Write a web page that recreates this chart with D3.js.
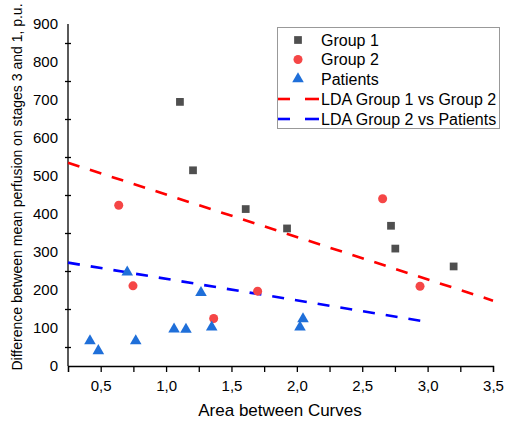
<!DOCTYPE html>
<html><head><meta charset="utf-8">
<script src="https://cdn.jsdelivr.net/npm/d3@7"></script>
<style>body{margin:0;background:#fff;} text{font-family:Arial,"Liberation Sans",sans-serif;fill:#000;}</style>
</head><body><svg id="c" width="508" height="423"></svg>
<script>
const group1X = [1.106, 1.206, 1.609, 1.925, 2.72, 2.753, 3.199];
const group1Y = [695, 515, 413, 362, 369, 309, 262];
const group2X = [0.638, 0.747, 1.364, 1.70, 2.656, 2.942];
const group2Y = [423, 211, 125, 197, 440, 210];
const patientsX = [0.418, 0.482, 0.703, 0.768, 1.061, 1.152, 1.267, 1.349, 2.024, 2.047];
const patientsY = [66, 40, 247, 66, 97, 96, 193, 102, 102, 124];
const lda12X = [0.25, 3.5];
const lda12Y = [535, 172];
const lda2PX = [0.25, 2.962];
const lda2PY = [272, 118];
const xTicks = [0.25,0.5,0.75,1.0,1.25,1.5,1.75,2.0,2.25,2.5,2.75,3.0,3.25,3.5];
const xLabels = [0.5,1.0,1.5,2.0,2.5,3.0,3.5];
const yTicks = [50,150,250,350,450,550,650,750,850];
const yLabels = [0,100,200,300,400,500,600,700,800,900];
const legendLabels = ["Group 1","Group 2","Patients","LDA Group 1 vs Group 2","LDA Group 2 vs Patients"];

const svg = d3.select("#c");
const x = d3.scaleLinear().domain([0.25,3.5]).range([68,493]);
const y = d3.scaleLinear().domain([0,900]).range([366,24]);
const fmt = v => d3.format(".1f")(v).replace(".", ",");

// X axis
const xa = svg.append("g").attr("transform","translate(0,366)")
  .call(d3.axisBottom(x).tickValues(xTicks).tickSize(6).tickFormat(""));
xa.select(".domain").attr("stroke","#000").attr("stroke-width",1.3);
xa.selectAll(".tick line").attr("stroke","#000").attr("stroke-width",1.3);
const xl = svg.append("g").attr("transform","translate(0,366)")
  .call(d3.axisBottom(x).tickValues(xLabels).tickSize(0).tickPadding(14).tickFormat(fmt));
xl.select(".domain").remove();
xl.selectAll("text").attr("font-size",15).attr("font-family","Arial, 'Liberation Sans', sans-serif").attr("fill","#000");

// Y axis
const ya = svg.append("g").attr("transform","translate(68,0)")
  .call(d3.axisLeft(y).tickValues(yTicks).tickSize(3).tickFormat(""));
ya.select(".domain").attr("stroke","#000").attr("stroke-width",1.3).attr("d","M0,24V366");
ya.selectAll(".tick line").attr("stroke","#000").attr("stroke-width",1.3).attr("x2",-3).attr("x1",3);
const yl = svg.append("g").attr("transform","translate(68,0)")
  .call(d3.axisLeft(y).tickValues(yLabels).tickSize(0).tickPadding(10).tickFormat(d3.format("d")));
yl.select(".domain").remove();
yl.selectAll("text").attr("font-size",15).attr("font-family","Arial, 'Liberation Sans', sans-serif").attr("fill","#000");

// titles
svg.append("text").attr("x",280).attr("y",416).attr("text-anchor","middle").attr("font-size",17).text("Area between Curves");
svg.append("text").attr("transform","translate(22,187) rotate(-90)").attr("text-anchor","middle").attr("font-size",14)
  .text("Difference between mean perfusion on stages 3 and 1, p.u.");

// lines
const line = d3.line().x(d=>x(d[0])).y(d=>y(d[1]));
svg.append("path").datum(d3.zip(lda12X, lda12Y)).attr("d",line).attr("fill","none")
  .attr("stroke","#ff0000").attr("stroke-width",2.6).attr("stroke-dasharray","12,11");
svg.append("path").datum(d3.zip(lda2PX, lda2PY)).attr("d",line).attr("fill","none")
  .attr("stroke","#0000ff").attr("stroke-width",2.6).attr("stroke-dasharray","12,11");

// points
const sq = d3.symbol().type(d3.symbolSquare).size(60);
const ci = d3.symbol().type(d3.symbolCircle).size(64);
const tr = d3.symbol().type(d3.symbolTriangle).size(58);
svg.append("g").selectAll("path").data(d3.zip(group1X, group1Y)).join("path")
  .attr("d",sq).attr("transform",d=>`translate(${x(d[0])},${y(d[1])})`).attr("fill","#4f4f4f");
svg.append("g").selectAll("path").data(d3.zip(group2X, group2Y)).join("path")
  .attr("d",ci).attr("transform",d=>`translate(${x(d[0])},${y(d[1])})`).attr("fill","#f54646");
svg.append("g").selectAll("path").data(d3.zip(patientsX, patientsY)).join("path")
  .attr("d",tr).attr("transform",d=>`translate(${x(d[0])},${y(d[1])})`).attr("fill","#1f6fd9");

// legend
const lg = svg.append("g");
lg.append("rect").attr("x",277.5).attr("y",27.5).attr("width",222).attr("height",101)
  .attr("fill","#fff").attr("stroke","#999").attr("stroke-width",1);
const rowY = [40,59.5,79,99,119];
legendLabels.forEach((t,i)=>{
  lg.append("text").attr("x",321).attr("y",rowY[i]).attr("dy","0.36em").attr("font-size",16).text(t);
});
lg.append("path").attr("d",sq).attr("transform",`translate(298,${rowY[0]})`).attr("fill","#4f4f4f");
lg.append("path").attr("d",ci).attr("transform",`translate(298,${rowY[1]})`).attr("fill","#f54646");
lg.append("path").attr("d",tr).attr("transform",`translate(298,${rowY[2]})`).attr("fill","#1f6fd9");
[["#ff0000",rowY[3]],["#0000ff",rowY[4]]].forEach(([c,yy])=>{
  lg.append("line").attr("x1",278).attr("x2",290).attr("y1",yy).attr("y2",yy).attr("stroke",c).attr("stroke-width",2.6);
  lg.append("line").attr("x1",305).attr("x2",319).attr("y1",yy).attr("y2",yy).attr("stroke",c).attr("stroke-width",2.6);
});
</script></body></html>
